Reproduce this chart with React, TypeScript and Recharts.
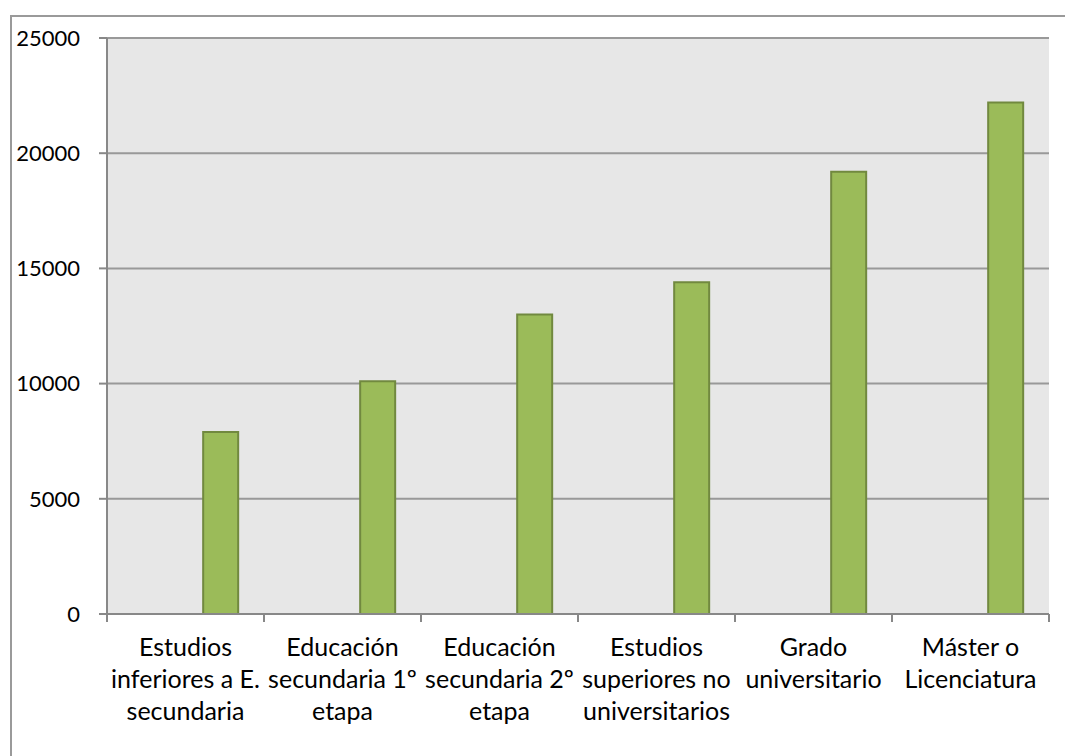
import React from "react";
import {
  ComposedChart,
  Bar,
  XAxis,
  YAxis,
  CartesianGrid,
} from "recharts";

const categories = [
  "Estudios\ninferiores a E.\nsecundaria",
  "Educación\nsecundaria 1º\netapa",
  "Educación\nsecundaria 2º\netapa",
  "Estudios\nsuperiores no\nuniversitarios",
  "Grado\nuniversitario",
  "Máster o\nLicenciatura",
];
const values = [7900, 10100, 13000, 14400, 19200, 22200];
const yTicks = [0, 5000, 10000, 15000, 20000, 25000];
const boundaryTicks = [0, 1, 2, 3, 4, 5, 6];

const data = categories.map((name, i) => ({ name, value: values[i], pos: i + 0.5 }));

const FONT = "Lato, 'Open Sans', sans-serif";

const CategoryTick = ({ x, y, payload }: any) => {
  const lines = String(payload.value).split("\n");
  return (
    <text x={x} y={y + 17} textAnchor="middle" fill="#000" fontSize={25} fontFamily={FONT}>
      {lines.map((line, i) => (
        <tspan key={i} x={x} dy={i === 0 ? "0.36em" : 32}>
          {line}
        </tspan>
      ))}
    </text>
  );
};

const EmptyTick = () => <g />;

export default function App() {
  return (
    <div style={{ position: "fixed", left: 0, top: 0, width: 1065, height: 756, overflow: "hidden", background: "#fff" }}>
      <div
        style={{
          position: "absolute",
          left: 10,
          top: 15,
          width: 1200,
          height: 900,
          border: "2px solid #9a9a9a",
          boxSizing: "border-box",
        }}
      />
      <div style={{ position: "absolute", left: 8, top: 8 }}>
        <ComposedChart
          width={1057}
          height={748}
          data={data}
          margin={{ top: 30, right: 16, bottom: 0, left: 0 }}
          barGap={0}
          barCategoryGap="16.67%"
        >
          <CartesianGrid vertical={false} stroke="#999" strokeWidth={2} fill="#e7e7e7" />
          <XAxis
            xAxisId="bounds"
            type="number"
            dataKey="pos"
            domain={[0, 6]}
            ticks={boundaryTicks}
            interval={0}
            allowDataOverflow
            tick={<EmptyTick />}
            tickSize={8}
            tickLine={{ stroke: "#888", strokeWidth: 2 }}
            axisLine={{ stroke: "#888", strokeWidth: 2 }}
            height={8}
          />
          <XAxis
            xAxisId="cat"
            dataKey="name"
            interval={0}
            axisLine={false}
            tickLine={false}
            tick={<CategoryTick />}
            height={134}
          />
          <YAxis
            domain={[0, 25000]}
            ticks={yTicks}
            width={99}
            tickSize={8}
            tickMargin={19}
            axisLine={{ stroke: "#888", strokeWidth: 2 }}
            tickLine={{ stroke: "#888", strokeWidth: 2 }}
            tick={{ fill: "#000", fontSize: 22, fontFamily: FONT }}
          />
          {/* empty series on the number axis, just so the boundary ticks get drawn */}
          <Bar xAxisId="bounds" dataKey="none" isAnimationActive={false} />
          <Bar xAxisId="cat" dataKey="s1" fill="#4f81bd" isAnimationActive={false} />
          <Bar xAxisId="cat" dataKey="s2" fill="#c0504d" isAnimationActive={false} />
          <Bar
            xAxisId="cat"
            dataKey="value"
            fill="#9bbb59"
            stroke="#71893f"
            strokeWidth={2}
            isAnimationActive={false}
          />
        </ComposedChart>
      </div>
    </div>
  );
}
